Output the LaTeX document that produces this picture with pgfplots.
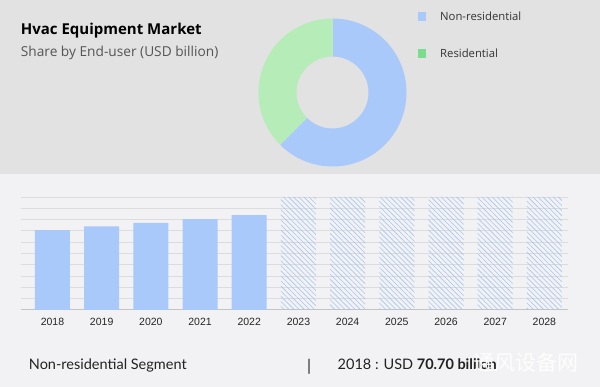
\documentclass[border=0pt]{standalone}
\usepackage{pgfplots}
\pgfplotsset{compat=1.18}
\usetikzlibrary{patterns.meta}
\usepackage{fontspec}
\setmainfont{Open Sans}
\newfontfamily\tickfont{Liberation Sans}
\newfontfamily\footfont{Lato}
\newfontfamily\cjk{Noto Sans CJK SC}
\definecolor{topbg}{HTML}{E2E2E2}
\definecolor{botbg}{HTML}{F2F2F4}
\definecolor{barblue}{HTML}{A9C9FB}
\definecolor{hatchblue}{HTML}{A9C4EE}
\definecolor{gridgray}{HTML}{DCDCDC}
\definecolor{basegray}{HTML}{C4C4C4}
\definecolor{resgreen}{HTML}{B5ECB8}
\definecolor{leggreen}{HTML}{7BDC8E}
\definecolor{subgray}{HTML}{555555}
\definecolor{txt}{HTML}{333333}
\definecolor{foot}{HTML}{222222}
\begin{document}
\begin{tikzpicture}[x=1pt,y=1pt]
% backgrounds
\fill[botbg] (0,0) rectangle (600,213);
\fill[topbg] (0,213) rectangle (600,387);
% titles
\node[anchor=base west,inner sep=0,text=black] at (20.7,352) {\fontsize{15}{18}\selectfont\bfseries Hvac Equipment Market};
\node[anchor=base west,inner sep=0,text=subgray] at (20.7,330) {\fontsize{13.7}{16}\selectfont Share by End-user (USD billion)};
% donut (shares in percent)
\def\nonres{62.5}
\def\res{37.5}
\begin{scope}[shift={(332.5,294.5)}]
\fill[barblue] (90:74) arc[start angle=90,end angle={90-3.6*\nonres},radius=74] -- ({90-3.6*\nonres}:36) arc[start angle={90-3.6*\nonres},end angle=90,radius=36] -- cycle;
\fill[resgreen] ({90-3.6*\nonres}:74) arc[start angle={90-3.6*\nonres},end angle={90-3.6*\nonres-3.6*\res},radius=74] -- ({90-3.6*\nonres-3.6*\res}:36) arc[start angle={90-3.6*\nonres-3.6*\res},end angle={90-3.6*\nonres},radius=36] -- cycle;
\end{scope}
% legend
\fill[barblue] (417.7,366.1) rectangle (426.3,374.7);
\fill[leggreen] (417.7,329.4) rectangle (426.3,338);
\node[anchor=base west,inner sep=0,text=txt] at (440,366.3) {\fontsize{11.3}{14}\selectfont Non-residential};
\node[anchor=base west,inner sep=0,text=txt] at (440,329.7) {\fontsize{11.3}{14}\selectfont Residential};
% bar chart
\begin{axis}[at={(21pt,77pt)},anchor=south west,scale only axis,
  width=547pt,height=113pt,
  xmin=-0.64,xmax=10.48,ymin=0,ymax=100,
  axis x line*=bottom, axis y line*=left,
  x axis line style={draw=basegray,line width=1pt},
  y axis line style={draw=none},
  ytick={10,20,...,100}, yticklabels={},
  ymajorgrids, grid style={draw=gridgray,line width=0.8pt},
  xtick={0,...,10},
  xticklabels={2018,2019,2020,2021,2022,2023,2024,2025,2026,2027,2028},
  major tick length=0pt,
  xticklabel style={font=\tickfont\fontsize{10.5}{12}\selectfont,text=black!85,yshift=-5pt},
  clip=false]
\addplot[ybar,bar width=35pt,bar shift=0pt,fill=barblue,draw=none]
  coordinates {(0,70.7)(1,73.9)(2,77.2)(3,80.5)(4,84.0)};
\addplot[ybar,bar width=35pt,bar shift=0pt,draw=none,
  pattern={Lines[angle=-45,distance=3.6pt,line width=0.6pt]},pattern color=hatchblue]
  coordinates {(5,100)(6,100)(7,100)(8,100)(9,100)(10,100)};
\end{axis}
% footer
\node[anchor=base west,inner sep=0,text=foot] at (28.7,17) {\footfont\fontsize{14.5}{16}\selectfont Non-residential Segment};
\node[anchor=base west,inner sep=0,text=foot] at (307,15) {\footfont\fontsize{16}{17}\selectfont |};
\node[anchor=base west,inner sep=0,text=foot] at (337.5,17) {\footfont\fontsize{14.5}{16}\selectfont 2018 : USD \textbf{70.70 billion}};
\node[anchor=base west,inner sep=0,text=white,opacity=0.9] at (473,16) {\cjk\fontsize{21}{22}\selectfont 通风设备网};
\end{tikzpicture}
\end{document}
